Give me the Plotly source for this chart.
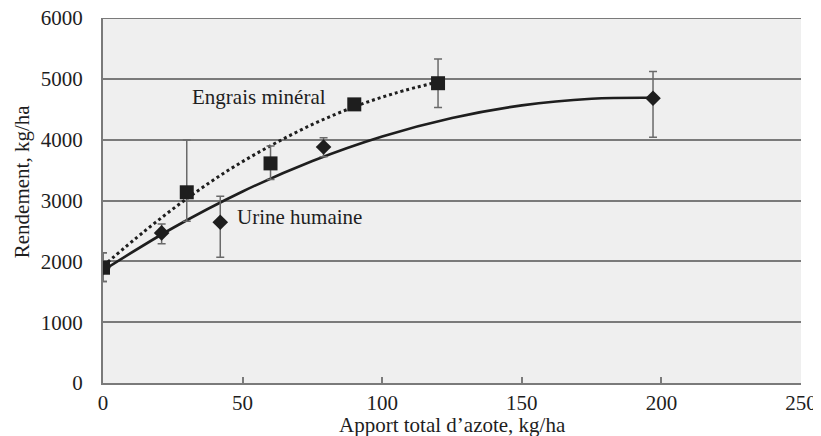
import plotly.graph_objects as go

# Data
mineral_x = [0, 30, 60, 90, 120]
mineral_y = [1895, 3135, 3610, 4580, 4928]
mineral_err_plus = [245, 858, 285, 0, 396]
mineral_err_minus = [225, 476, 264, 0, 400]

urine_x = [0, 21, 42, 79, 197]
urine_y = [1895, 2467, 2643, 3879, 4681]
urine_err_plus = [245, 148, 428, 154, 440]
urine_err_minus = [225, 176, 577, 159, 643]

# Trend curves
mineral_curve_x = [0, 15, 30, 45, 60, 75, 90, 105, 120]
mineral_curve_y = [1920, 2500, 3030, 3500, 3900, 4250, 4540, 4770, 4950]
urine_curve_x = [0, 25, 50, 75, 100, 125, 150, 175, 197]
urine_curve_y = [1850, 2548, 3148, 3650, 4053, 4357, 4564, 4672, 4688]

x_ticks = [0, 50, 100, 150, 200, 250]
y_ticks = [0, 1000, 2000, 3000, 4000, 5000, 6000]

x_title = "Apport total d’azote, kg/ha"
y_title = "Rendement, kg/ha"
label_mineral = "Engrais minéral"
label_urine = "Urine humaine"

FONT = "Liberation Serif"
DARK = "#1e1e1e"
ERR = "#6a6a6a"
GRID = "#7a7a7a"

fig = go.Figure()

fig.add_trace(go.Scatter(
    x=urine_curve_x, y=urine_curve_y, mode="lines", line_shape="spline",
    line=dict(color=DARK, width=2.6), hoverinfo="skip", showlegend=False))
fig.add_trace(go.Scatter(
    x=mineral_curve_x, y=mineral_curve_y, mode="lines", line_shape="spline",
    line=dict(color=DARK, width=3, dash="dot"), hoverinfo="skip", showlegend=False))

fig.add_trace(go.Scatter(
    x=urine_x, y=urine_y, mode="markers", name="Urine humaine",
    marker=dict(symbol="diamond", size=12, color=DARK),
    error_y=dict(type="data", symmetric=False, array=urine_err_plus,
                 arrayminus=urine_err_minus, color=ERR, thickness=1.5, width=4),
    showlegend=False))
fig.add_trace(go.Scatter(
    x=mineral_x, y=mineral_y, mode="markers", name="Engrais minéral",
    marker=dict(symbol="square", size=14, color=DARK),
    error_y=dict(type="data", symmetric=False, array=mineral_err_plus,
                 arrayminus=mineral_err_minus, color=ERR, thickness=1.5, width=4),
    showlegend=False))

fig.add_annotation(x=55.9, y=4698, text=label_mineral, showarrow=False,
                   xanchor="center", yanchor="middle",
                   font=dict(family=FONT, size=21, color=DARK))
fig.add_annotation(x=47.3, y=2736, text=label_urine, showarrow=False,
                   xanchor="left", yanchor="middle",
                   font=dict(family=FONT, size=21, color=DARK))

# Axis titles as annotations for precise placement
fig.add_annotation(x=0.5, y=0, xref="paper", yref="paper", text=x_title,
                   showarrow=False, xanchor="center", yanchor="middle",
                   yshift=-42, font=dict(family=FONT, size=21, color=DARK))
fig.add_annotation(x=0, y=0.55, xref="paper", yref="paper", text=y_title,
                   showarrow=False, xanchor="center", yanchor="middle",
                   textangle=-90, xshift=-81,
                   font=dict(family=FONT, size=21, color=DARK))

# Top gridline at the last y tick (edge gridline)
fig.add_shape(type="line", xref="paper", yref="y", x0=0, x1=1,
              y0=y_ticks[-1], y1=y_ticks[-1],
              line=dict(color=GRID, width=2), layer="below")

# The page adds an 8px body margin, so the figure is shrunk by 8px
fig.update_layout(
    width=813, height=428,
    margin=dict(l=95, r=20, t=10, b=53),
    paper_bgcolor="white", plot_bgcolor="#efefef",
    font=dict(family=FONT, size=21, color=DARK),
    showlegend=False,
)
fig.update_xaxes(
    range=[0, 250], tickvals=x_ticks, showgrid=False, zeroline=False,
    showline=True, linecolor=GRID, linewidth=2,
    ticks="inside", ticklen=6, tickcolor=GRID, tickwidth=2,
    tickfont=dict(family=FONT, size=21), automargin=False,
    ticklabeloverflow="allow",
)
fig.update_yaxes(
    range=[0, 6000], tickvals=y_ticks, showgrid=True, gridcolor=GRID,
    gridwidth=1.8, zeroline=False, showline=True, linecolor=GRID,
    linewidth=2, ticks="", ticklabelstandoff=14,
    tickfont=dict(family=FONT, size=21), automargin=False,
    ticklabeloverflow="allow",
)

fig.write_html("out.html")
